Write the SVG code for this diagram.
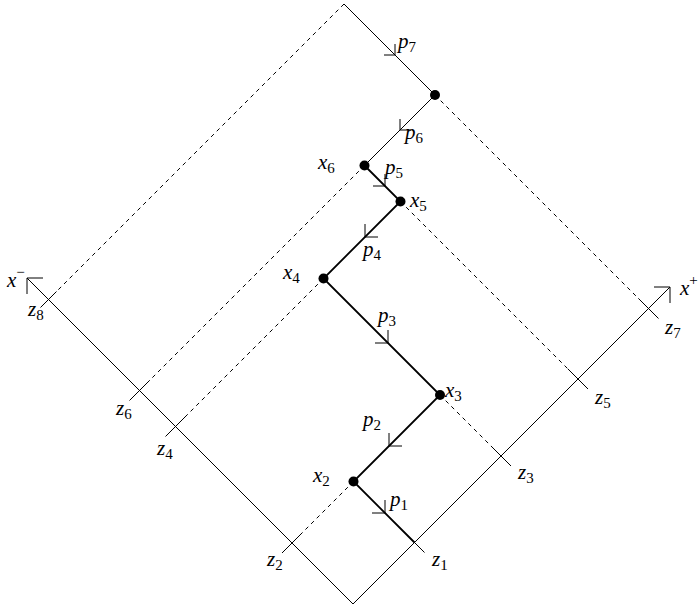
<svg xmlns="http://www.w3.org/2000/svg" width="699" height="609" viewBox="0 0 699 609">
<style>
.ax{stroke:#000;stroke-width:1;fill:none}
.thick{stroke:#000;stroke-width:1.8;fill:none}
.thin{stroke:#000;stroke-width:1;fill:none}
.dash{stroke:#000;stroke-width:1;fill:none;stroke-dasharray:4 4}
.barb{stroke:#000;stroke-width:1;fill:none}
.tick{stroke:#000;stroke-width:1;fill:none}
.dot{fill:#000}
text{font-family:"Liberation Serif","DejaVu Serif",serif;font-size:21px;font-style:italic;fill:#000}
.sub{font-size:15px;font-style:normal}
</style>
<rect width="699" height="609" fill="#fff"/>
<g id="axes">
<path class="ax" d="M353,604 L27,278"/>
<path class="ax" d="M43,278 L27,278 L27,294"/>
<path class="ax" d="M353,604 L670,287"/>
<path class="ax" d="M654,287 L670,287 L670,303"/>
<text x="7" y="287">x<tspan class="sub" dy="-10">−</tspan></text>
<text x="680" y="295">x<tspan class="sub" dy="-10">+</tspan></text>
</g>
<g id="connectors">
<path class="dash" d="M344,4 L48.5,299.5"/>
<path class="dash" d="M435,95 L648.5,308.5"/>
<path class="dash" d="M364.5,165.5 L139.5,390.5"/>
<path class="dash" d="M400.5,201.5 L578,379"/>
<path class="dash" d="M323.5,278.5 L175.5,426.5"/>
<path class="dash" d="M440,395 L501,456"/>
<path class="dash" d="M353.5,481.5 L292,543"/>
<path class="thin" d="M344,4 L435,95"/>
<path class="thin" d="M435,95 L364.5,165.5"/>
<path class="thick" d="M364.5,165.5 L400.5,201.5 L323.5,278.5 L440,395 L353.5,481.5 L414.5,542.5"/>
<path class="barb" d="M384,55 L395,55 L395,44"/>
<path class="barb" d="M400,119 L400,130 L411,130"/>
<path class="barb" d="M373,186 L385,186 L385,174"/>
<path class="barb" d="M365,224 L365,237 L378,237"/>
<path class="barb" d="M375,343 L388,343 L388,330"/>
<path class="barb" d="M389,433 L389,446 L402,446"/>
<path class="barb" d="M372,513 L385,513 L385,500"/>
<text x="398" y="48">p<tspan class="sub" dy="4">7</tspan></text>
<text x="405" y="139">p<tspan class="sub" dy="4">6</tspan></text>
<text x="385" y="174">p<tspan class="sub" dy="4">5</tspan></text>
<text x="363" y="256">p<tspan class="sub" dy="4">4</tspan></text>
<text x="378" y="322">p<tspan class="sub" dy="4">3</tspan></text>
<text x="363" y="426">p<tspan class="sub" dy="4">2</tspan></text>
<text x="390" y="506">p<tspan class="sub" dy="4">1</tspan></text>
</g>
<g id="ticks">
<path class="tick" d="M404.5,532.5 L424.5,552.5"/>
<path class="tick" d="M302,533 L282,553"/>
<path class="tick" d="M491,446 L511,466"/>
<path class="tick" d="M185.5,416.5 L165.5,436.5"/>
<path class="tick" d="M568,369 L588,389"/>
<path class="tick" d="M149.5,380.5 L129.5,400.5"/>
<path class="tick" d="M638.5,298.5 L658.5,318.5"/>
<path class="tick" d="M56.5,291.5 L40.5,307.5"/>
<text x="432" y="566">z<tspan class="sub" dy="4">1</tspan></text>
<text x="267" y="566">z<tspan class="sub" dy="4">2</tspan></text>
<text x="518" y="479">z<tspan class="sub" dy="4">3</tspan></text>
<text x="157" y="455">z<tspan class="sub" dy="4">4</tspan></text>
<text x="595" y="404">z<tspan class="sub" dy="4">5</tspan></text>
<text x="116" y="415">z<tspan class="sub" dy="4">6</tspan></text>
<text x="665" y="334">z<tspan class="sub" dy="4">7</tspan></text>
<text x="28" y="316">z<tspan class="sub" dy="4">8</tspan></text>
</g>
<g id="node-x7"><circle class="dot" cx="435" cy="95" r="5"/></g>
<g id="node-x6"><circle class="dot" cx="364.5" cy="165.5" r="5"/><text x="318" y="169">x<tspan class="sub" dy="4">6</tspan></text></g>
<g id="node-x5"><circle class="dot" cx="400.5" cy="201.5" r="5"/><text x="410" y="207">x<tspan class="sub" dy="4">5</tspan></text></g>
<g id="node-x4"><circle class="dot" cx="323.5" cy="278.5" r="5"/><text x="283" y="279">x<tspan class="sub" dy="4">4</tspan></text></g>
<g id="node-x3"><circle class="dot" cx="440" cy="395" r="5"/><text x="445" y="397">x<tspan class="sub" dy="4">3</tspan></text></g>
<g id="node-x2"><circle class="dot" cx="353.5" cy="481.5" r="5"/><text x="313" y="482">x<tspan class="sub" dy="4">2</tspan></text></g>
</svg>
